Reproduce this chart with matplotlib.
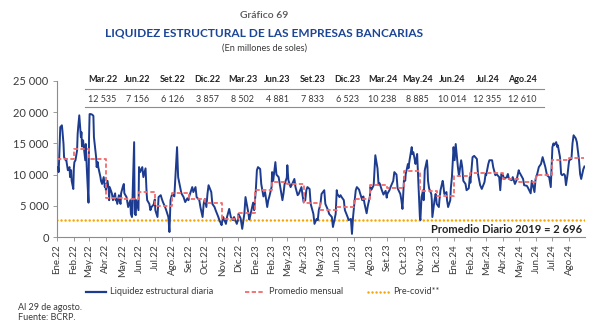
import numpy as np
import pandas as pd
import matplotlib
matplotlib.use("Agg")
import matplotlib.pyplot as plt
from matplotlib.lines import Line2D

plt.rcParams['font.family'] = ['Lato', 'DejaVu Sans']

# x axis labels, one per month from Ene.22
month_labels = ["Ene.22", "Feb.22", "May.22", "Abr.22", "May.22", "Jun.22",
                "Jul.22", "Ago.22", "Set.22", "Oct.22", "Nov.22", "Dic.22",
                "Ene.23", "Feb.23", "May.23", "Abr.23", "May.23", "Jun.23",
                "Jul.23", "Ago.23", "Set.23", "Oct.23", "Nov.23", "Dic.23",
                "Ene.24", "Feb.24", "Mar.24", "Abr.24", "May.24", "Jun.24",
                "Jul.24", "Ago.24"]

# monthly average (red step)
monthly_avg = [12500, 14100, 12535, 6300, 6100, 7156, 4900, 7100, 6126, 5450,
               2950, 3857, 7480, 8800, 8502, 5450, 4400, 4881, 6100, 8300,
               7833, 10600, 7400, 6523, 9700, 10300, 10238, 9250, 8885, 10014,
               12355, 12610]

# table above the series
table_months = ["Mar.22", "Jun.22", "Set.22", "Dic.22", "Mar.23", "Jun.23",
                "Set.23", "Dic.23", "Mar.24", "May.24", "Jun.24", "Jul.24",
                "Ago.24"]
table_values = [12535, 7156, 6126, 3857, 8502, 4881, 7833, 6523, 10238, 8885,
                10014, 12355, 12610]

precovid = 2696

# daily structural liquidity, readings for each month in date order
daily_by_month = [
    [11200, 10400, 12500, 17600, 17900, 17000, 14900, 12800, 12300, 12500, 11800, 10700, 11200, 9600, 10700, 9000, 7700],
    [11000, 12000, 12300, 13900, 16500, 17600, 19500, 16000, 16800, 14500, 15500, 13000, 12300, 14900, 10700, 5500],
    [16000, 19700, 19700, 19600, 19400, 16000, 12800, 11200, 12000, 11200, 9600, 9000, 8500, 9600, 8000, 8500],
    [7500, 9000, 7800, 5900, 8000, 7000, 6400, 5900, 7000, 5900, 6100, 5300, 6700, 5900, 5300, 7000],
    [8000, 8500, 7000, 6400, 5900, 4800, 5900, 3700, 3200, 15200, 3700, 3500, 5900, 4300],
    [11200, 10400, 11200, 9600, 11000, 7000, 5900, 5300, 4300, 4800, 5200, 6000],
    [4300, 3200, 6400, 6700, 6100, 5600, 4800, 4300, 3200, 800, 5900],
    [6900, 7000, 6500, 14400, 9600, 7900, 7000, 6400, 5600, 6200, 5900],
    [6400, 7500, 8000, 7200, 8000, 6400, 5900, 4800, 3200, 5300, 6100],
    [4800, 6900, 8300, 7200, 5300, 4800, 4300, 3200, 2700, 1900],
    [2400, 3200, 2100, 3200, 4500, 3200, 2700, 3200, 2100, 2700],
    [3700, 3000, 1300, 3800, 6400, 4000, 2800, 3500, 5500, 4300],
    [7500, 10700, 11200, 10900, 8500, 6500, 7200, 4800, 5900, 6500, 8000],
    [10400, 9000, 12000, 10000, 9600, 8000, 5900, 7000, 8500, 9500],
    [11500, 9100, 8000, 8500, 9300, 8000, 6700, 6900, 8000, 6700, 5600],
    [5900, 7500, 8000, 7700, 5300, 3700, 2100, 2900, 2700, 4300],
    [5300, 6900, 7500, 5300, 4300, 3700, 3200, 1600, 3700, 7500],
    [6900, 6400, 6700, 6400, 5900, 4300, 3200, 2700, 2900, 500, 3200],
    [5900, 7500, 8000, 7600, 7000, 5900, 6500, 5400, 3800, 4900, 6500],
    [8000, 7600, 8300, 13100, 11000, 8400, 8600, 7500, 6800, 7400, 6300],
    [6900, 7500, 8000, 9000, 10400, 10000, 7800, 6900, 5900, 4500],
    [9600, 9000, 10100, 11700, 11000, 12300, 14400, 13300, 13600, 11700, 12300, 13300, 11200, 3200],
    [2700, 6400, 7500, 5900, 10700, 12300, 11200, 9000, 7800, 6900, 5900, 3200, 5900, 6900, 6400],
    [5300, 4800, 5900, 7500, 9000, 8500, 6900, 7200, 5900, 4800, 5900, 7800, 9600],
    [14400, 12300, 14900, 11200, 9800, 12300, 11200, 9000, 8500, 7500, 7800, 9600],
    [8700, 12800, 13000, 12500, 10100, 8300, 7700, 8800, 10100],
    [9900, 11700, 12300, 12300, 11200, 9900, 10100, 9600, 7500, 10100],
    [9900, 9300, 9600, 10100, 9300, 9100, 9600, 8500, 9100, 10700],
    [10400, 10100, 9300, 8300, 8200, 7900, 7000, 9000, 7200, 9300],
    [10100, 11200, 11700, 12800, 11200, 9900, 9600, 8000],
    [14400, 15000, 14700, 15200, 14400, 14700, 12800, 10100, 9900, 10100, 9900, 8300, 10100, 11700],
    [12300, 12500, 15000, 16300, 15800, 15200, 12300, 10100, 9300, 10900, 11300],
]

last_day = pd.Timestamp("2024-08-29")
month_starts = pd.date_range("2022-01-01", periods=len(month_labels), freq="MS")

# spread each month's readings over its business days
dates, values = [], []
for start, vals in zip(month_starts, daily_by_month):
    end = min(start + pd.offsets.MonthEnd(0), last_day)
    days = pd.bdate_range(start, end)
    idx = np.linspace(0, len(days) - 1, len(vals)).round().astype(int)
    dates.extend(days[idx])
    values.extend(vals)

BLUE = "#1d3c8f"
RED = "#f26b6b"
ORANGE = "#f5a400"
GREY = "#3a3a3a"

W, H = 600, 330
fig = plt.figure(figsize=(W / 100, H / 100), dpi=100)


def fx(px):
    return px / W


def fy(py):
    return 1 - py / H


ax = fig.add_axes([fx(57), fy(237), fx(585 - 57), (237 - 81) / H])

ax.plot(dates, values, color=BLUE, lw=1.4, zorder=3)

step_x = list(month_starts) + [last_day]
step_y = monthly_avg + [monthly_avg[-1]]
ax.plot(step_x, step_y, drawstyle="steps-post", color=RED, lw=1.3,
        ls=(0, (2.4, 1.3)), zorder=4)

ax.axhline(precovid, color=ORANGE, lw=1.8, ls=(0, (0.01, 1.6)),
           dash_capstyle="round", zorder=2)

ax.set_xlim(month_starts[0], pd.Timestamp("2024-08-30"))
ax.set_ylim(0, 25000)
yt = np.arange(0, 25001, 5000)
ax.set_yticks(yt)
ax.set_yticklabels([f"{v:,}".replace(",", " ") for v in yt])
ax.set_xticks(month_starts)
ax.set_xticklabels(month_labels, rotation=90)

for s in ["top", "right"]:
    ax.spines[s].set_visible(False)
for s in ["left", "bottom"]:
    ax.spines[s].set_color("#8c8c8c")
    ax.spines[s].set_linewidth(0.8)
ax.tick_params(axis="y", length=3, width=0.6, color="#8c8c8c", labelsize=8,
               labelcolor=GREY, pad=3)
ax.tick_params(axis="x", length=3, width=0.6, color="#8c8c8c", labelsize=7,
               labelcolor=GREY, pad=2)

ax.text(0.995, precovid - 600, f"Promedio Diario 2019 = {precovid:,}".replace(",", " "),
        transform=ax.get_yaxis_transform(), ha="right", va="top",
        fontsize=8, fontweight="bold", color="#222222")

# titles
fig.text(fx(264), fy(16), "Gráfico 69", ha="center", va="center",
         fontsize=7.5, color="#555555", fontweight="semibold")
fig.text(fx(264), fy(33), "LIQUIDEZ ESTRUCTURAL DE LAS EMPRESAS BANCARIAS",
         ha="center", va="center", fontsize=8.6, fontweight="bold", color="#1b4596")
fig.text(fx(264), fy(48), "(En millones de soles)", ha="center", va="center",
         fontsize=6.6, color=GREY)

# summary table
for i, (m, v) in enumerate(zip(table_months, table_values)):
    cx = fx(102.5 + 35 * i)
    fig.text(cx, fy(79), m, ha="center", va="center", fontsize=6.5,
             fontweight="bold", color="#222222")
    fig.text(cx, fy(99), f"{v:,}".replace(",", " "), ha="center",
             va="center", fontsize=6.5, color=GREY)
for ly in (89, 107):
    fig.add_artist(Line2D([fx(85), fx(544)], [fy(ly), fy(ly)],
                          color="#8c8c8c", lw=0.8))

# legend
ly = fy(292)
fig.add_artist(Line2D([fx(86), fx(106)], [ly, ly], color=BLUE, lw=1.6))
fig.text(fx(110), ly, "Liquidez estructural diaria", va="center",
         fontsize=6.6, color=GREY)
fig.add_artist(Line2D([fx(245), fx(265)], [ly, ly], color=RED, lw=1.3,
                      ls=(0, (2.4, 1.3))))
fig.text(fx(269), ly, "Promedio mensual", va="center", fontsize=6.6, color=GREY)
fig.add_artist(Line2D([fx(368), fx(390)], [ly, ly], color=ORANGE, lw=1.8,
                      ls=(0, (0.01, 1.6)), dash_capstyle="round"))
fig.text(fx(393), ly, "Pre-covid**", va="center", fontsize=6.6, color=GREY)

# notes
fig.text(fx(18), fy(307), "Al 29 de agosto.", va="center", fontsize=6.5, color=GREY)
fig.text(fx(18), fy(318), "Fuente: BCRP.", va="center", fontsize=6.5, color=GREY)

fig.savefig("out.png", dpi=100)
